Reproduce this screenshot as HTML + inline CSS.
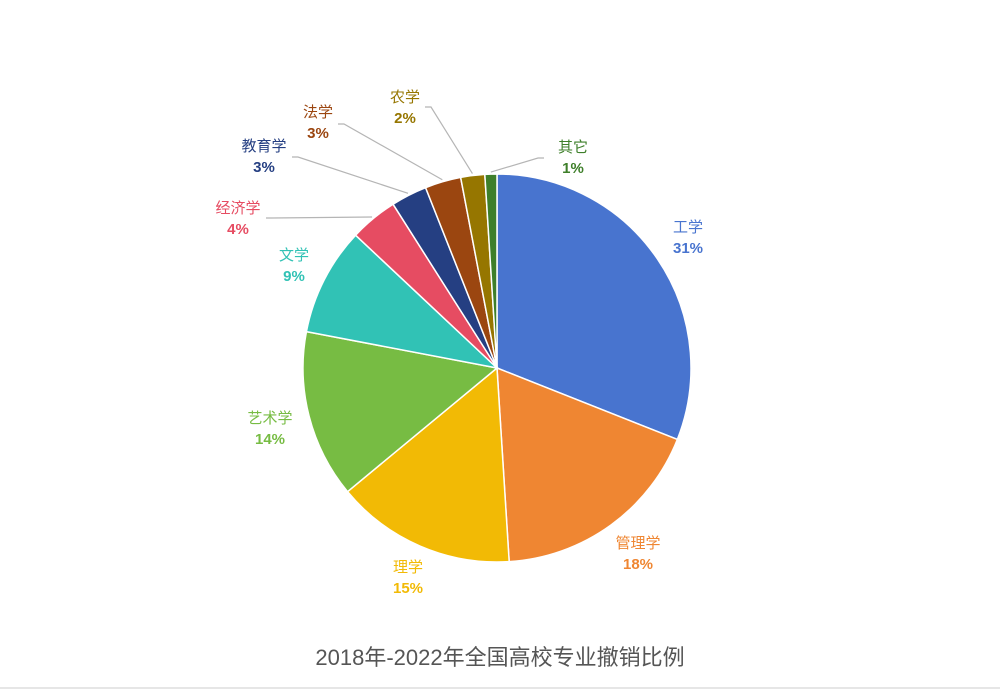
<!DOCTYPE html>
<html><head><meta charset="utf-8">
<style>
html,body{margin:0;padding:0;background:#fff;}
body{width:1000px;height:690px;overflow:hidden;font-family:"Liberation Sans","Noto Sans CJK SC",sans-serif;}
</style></head>
<body>
<svg id="chart" width="1000" height="690" viewBox="0 0 1000 690" xmlns="http://www.w3.org/2000/svg">
<line x1="0" y1="688" x2="1000" y2="688" stroke="#e6e6e6" stroke-width="2"/>
<text x="500" y="665" text-anchor="middle" font-size="22" fill="#555">2018年-2022年全国高校专业撤销比例</text>
</svg>
<script>
const categories = ["工学","管理学","理学","艺术学","文学","经济学","教育学","法学","农学","其它"];
const values = [31,18,15,14,9,4,3,3,2,1];
const labelTexts = ["31%","18%","15%","14%","9%","4%","3%","3%","2%","1%"];
const colors = ["#4874CF","#EF8632","#F2BA05","#77BC43","#31C2B5","#E64C62","#253F82","#9B4610","#967600","#3E7F2A"];
// layout: label centers [x,y of name line], and optional leader knee point
const labelPos = [[688,232],[638,548],[408,572],[270,423],[294,260],[238,213],[264,151],[318,117],[405,102],[573,152]];
const knee = [null,null,null,null,null,[272,218],[298,157],[344,124],[431,107],[538,158]];
const cx=497, cy=368, r=194;
const svg=document.getElementById('chart');
const NS="http://www.w3.org/2000/svg";
const total=values.reduce((a,b)=>a+b,0);
function pt(a,rr){return [cx+rr*Math.sin(a), cy-rr*Math.cos(a)];}
let acc=0;
values.forEach((v,i)=>{
  const a0=acc/total*2*Math.PI; acc+=v; const a1=acc/total*2*Math.PI;
  const p0=pt(a0,r), p1=pt(a1,r);
  const large=(a1-a0)>Math.PI?1:0;
  const path=document.createElementNS(NS,'path');
  path.setAttribute('d',`M${cx},${cy} L${p0[0]},${p0[1]} A${r},${r} 0 ${large} 1 ${p1[0]},${p1[1]} Z`);
  path.setAttribute('fill',colors[i]);
  path.setAttribute('stroke','#fff');
  path.setAttribute('stroke-width','1.5');
  
  
  svg.appendChild(path);
  const am=(a0+a1)/2;
  if(knee[i]){
    const e=pt(am,r+2);
    const k=knee[i];
    const line=document.createElementNS(NS,'polyline');
    const kx2 = k[0] + (k[0]<cx? -6: 6);
    line.setAttribute('points',`${kx2},${k[1]} ${k[0]},${k[1]} ${e[0]},${e[1]}`);
    line.setAttribute('fill','none');
    line.setAttribute('stroke','#b5b5b5');
    line.setAttribute('stroke-width','1.2');
    
    
    svg.appendChild(line);
  }
  const lp=labelPos[i];
  const t=document.createElementNS(NS,'text');
  t.setAttribute('x',lp[0]); t.setAttribute('y',lp[1]);
  t.setAttribute('text-anchor','middle');
  t.setAttribute('font-size','15');
  t.setAttribute('font-weight','bold');
  t.setAttribute('fill',colors[i]);
  
  
  const s1=document.createElementNS(NS,'tspan');
  s1.setAttribute('x',lp[0]); s1.textContent=categories[i];
  s1.setAttribute('font-weight','normal');
  const s2=document.createElementNS(NS,'tspan');
  s2.setAttribute('x',lp[0]); s2.setAttribute('dy','21'); s2.textContent=labelTexts[i];
  t.appendChild(s1); t.appendChild(s2);
  svg.appendChild(t);
});
</script>
</body></html>
